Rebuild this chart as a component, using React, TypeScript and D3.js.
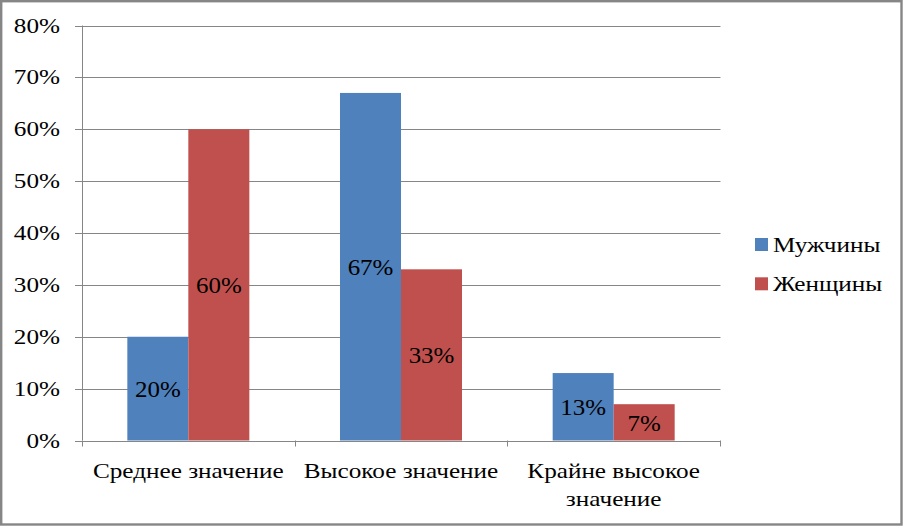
import React from "react";
import * as d3 from "d3";

const categories: string[][] = [["Среднее значение"], ["Высокое значение"], ["Крайне высокое", "значение"]];
const seriesNames = ["Мужчины", "Женщины"];
const men = [0.2, 0.67, 0.13];
const women = [0.6, 0.33, 0.07];
const yTicks = [0, 0.1, 0.2, 0.3, 0.4, 0.5, 0.6, 0.7, 0.8];
const colors = ["#4F81BD", "#C0504D"];

const W = 903;
const H = 526;
const FONT = "Liberation Serif";

export default function App() {
  const y = d3.scaleLinear().domain([0, 0.8]).range([440.5, 25.5]);
  const x = d3.scaleBand<number>().domain([0, 1, 2]).range([82, 720]).paddingInner(0).paddingOuter(0);
  const barW = 61;
  const series = [men, women];
  const pct = d3.format(".0%");
  const axisColor = "#868686";

  const stretched = (key: string, tx: number, ty: number, txt: string, size: number, sx: number, anchor: string) => (
    <g key={key} transform={`translate(${tx},${ty}) scale(${sx},1)`}>
      <text x={0} y={0} style={{ fontFamily: FONT, fontSize: size }} textAnchor={anchor} fill="#000">
        {txt}
      </text>
    </g>
  );

  return (
    <svg width={W} height={H} style={{ position: "absolute", left: 0, top: 0, background: "#fff" }}>
      <rect x={0} y={0} width={W} height={H} fill="#fff" />
      {yTicks.map((t) => (
        <line key={"g" + t} x1={75} x2={720.5} y1={Math.round(y(t)) + 0.5} y2={Math.round(y(t)) + 0.5} stroke={axisColor} strokeWidth={1} />
      ))}
      <line x1={82.5} x2={82.5} y1={y(0.8)} y2={y(0)} stroke={axisColor} strokeWidth={1} />
      {[0, 1, 2, 3].map((i) => {
        const px = i < 3 ? x(i)! : x(2)! + x.bandwidth();
        return <line key={"xt" + i} x1={Math.round(px) + 0.5} x2={Math.round(px) + 0.5} y1={y(0)} y2={y(0) + 6} stroke={axisColor} strokeWidth={1} />;
      })}
      {series.map((vals, s) =>
        vals.map((v, i) => {
          const cx = x(i)! + x.bandwidth() / 2;
          const bx = cx - barW + s * barW;
          return <rect key={`b${s}-${i}`} x={bx} y={y(v)} width={barW} height={y(0) - y(v)} fill={colors[s]} />;
        })
      )}
      {series.map((vals, s) =>
        vals.map((v, i) => {
          const cx = x(i)! + x.bandwidth() / 2;
          const lx = cx - barW / 2 + s * barW;
          const ly = (y(v) + y(0)) / 2 + 8.3;
          return stretched(`l${s}-${i}`, lx, ly, pct(v), 24, 1.04, "middle");
        })
      )}
      {yTicks.map((t) => stretched("yl" + t, 60, y(t) + 7, pct(t), 21, 1.2, "end"))}
      {categories.map((lines, i) =>
        lines.map((ln, j) => stretched(`c${i}-${j}`, x(i)! + x.bandwidth() / 2, 477.5 + j * 28.7, ln, 21, 1.2, "middle"))
      )}
      {seriesNames.map((n, s) => (
        <g key={"lg" + s}>
          <rect x={755} y={238 + s * 39.3} width={13} height={13} fill={colors[s]} />
          {stretched("lt" + s, 773, 252 + s * 39.3, n, 21, 1.2, "start")}
        </g>
      ))}
      <rect x={1.2} y={1.2} width={900.3} height={523.3} fill="none" stroke={axisColor} strokeWidth={2.4} />
    </svg>
  );
}
